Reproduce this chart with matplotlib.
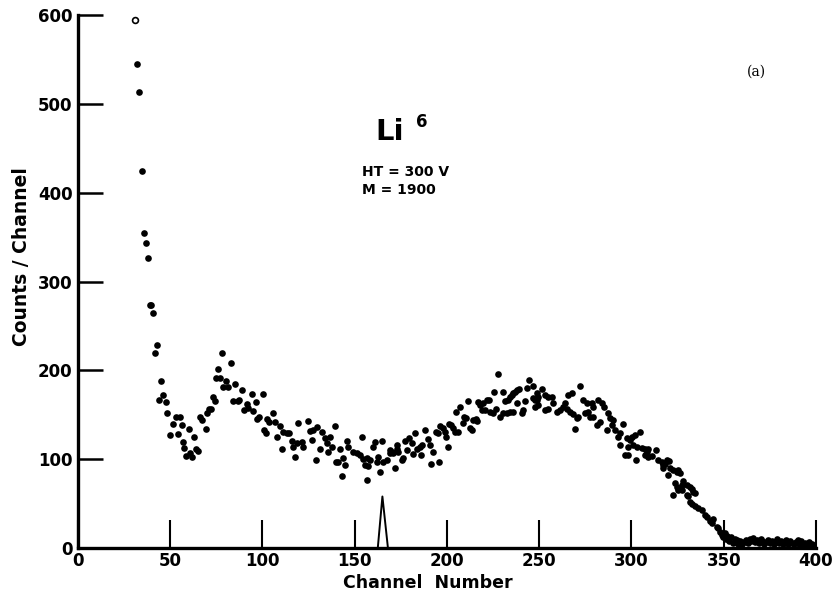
import matplotlib
matplotlib.use("Agg")
import matplotlib.pyplot as plt
import numpy as np

# open circle (first channel, off-scale reading)
open_channel = [31.0]
open_counts = [594]

channel = [
    32.0, 33.0, 34.5, 35.8, 36.7, 37.9, 39.2, 39.8, 40.7, 41.7, 42.6, 44.0, 44.8,
    46.2, 47.5, 48.0, 49.9, 51.7, 53.1, 54.0, 55.3, 56.2, 57.1, 57.6, 58.5, 60.2,
    60.7, 62.0, 63.0, 63.8, 65.2, 66.1, 67.1, 69.2, 69.7, 71.2, 71.9, 73.0, 74.1,
    74.8, 76.1, 77.0, 77.9, 78.8, 80.0, 81.5, 82.9, 84.2, 85.3, 86.6, 87.5, 89.1,
    90.2, 91.4, 92.3, 94.5, 95.0, 96.5, 96.9, 98.3, 100.1, 101.0, 101.7, 102.3,
    103.7, 105.9, 106.8, 107.7, 109.5, 110.4, 111.3, 113.1, 114.5, 115.8, 116.7,
    117.6, 118.5, 119.0, 121.2, 122.1, 124.8, 125.7, 126.7, 127.5, 128.8, 129.4,
    131.2, 132.1, 133.9, 134.8, 135.7, 136.6, 137.5, 139.3, 139.8, 141.1, 142.0,
    142.9, 143.8, 144.7, 145.6, 146.5, 149.2, 151.0, 152.8, 153.7, 154.7, 155.6,
    156.5, 156.5, 157.4, 158.3, 160.0, 161.0, 161.9, 162.8, 163.7, 164.6, 165.5,
    167.3, 169.1, 169.1, 170.0, 170.9, 171.8, 172.7, 172.7, 173.6, 175.4, 176.3,
    177.2, 178.1, 179.5, 180.8, 181.7, 182.7, 183.6, 185.4, 185.7, 186.2, 188.1,
    189.9, 190.8, 191.3, 192.2, 194.0, 194.9, 195.8, 196.2, 197.6, 198.9, 199.5,
    200.4, 201.3, 202.2, 203.4, 204.3, 204.7, 206.1, 207.0, 208.5, 209.2, 210.3,
    211.5, 212.5, 213.4, 214.2, 215.7, 216.4, 217.0, 217.9, 218.8, 219.4, 220.6,
    221.5, 222.9, 223.3, 225.1, 225.5, 226.6, 227.5, 228.7, 230.5, 230.5, 231.4,
    232.3, 233.2, 234.1, 234.1, 235.0, 235.9, 235.9, 236.9, 237.8, 237.8, 239.2,
    240.5, 241.4, 242.3, 243.2, 244.6, 246.4, 246.8, 247.7, 247.7, 248.6, 248.6,
    249.5, 249.5, 251.3, 253.1, 253.1, 254.9, 254.9, 256.7, 257.6, 259.4, 261.2,
    263.0, 264.0, 264.8, 265.7, 266.7, 267.6, 268.5, 269.4, 270.3, 271.2, 272.1,
    273.9, 274.8, 275.7, 276.6, 277.5, 278.4, 279.3, 279.3, 281.1, 282.0, 282.9,
    283.8, 285.1, 286.5, 287.4, 288.3, 289.2, 290.1, 291.1, 292.8, 293.8, 293.8,
    295.6, 296.5, 297.4, 298.3, 298.3, 299.2, 300.1, 301.0, 301.9, 302.4, 302.8,
    304.6, 305.5, 307.3, 307.3, 308.2, 309.1, 309.1, 311.0, 313.3, 314.5, 316.3,
    317.2, 317.2, 318.1, 319.0, 319.9, 320.4, 320.9, 322.7, 322.7, 323.6, 324.5,
    324.5, 325.4, 325.4, 326.3, 327.2, 327.2, 328.1, 329.9, 329.9, 330.8, 331.7,
    331.7, 332.6, 332.6, 333.5, 334.4, 334.4, 336.2, 338.0, 339.8, 340.7, 342.5,
    343.4, 344.3, 346.1, 347.1, 348.0, 348.9, 349.5, 350.5, 351.5, 352.0, 353.0,
    354.0, 355.0, 356.0, 357.0, 358.0, 359.0, 360.0, 361.0, 362.0, 363.0, 364.0,
    365.0, 366.0, 367.0, 368.0, 369.0, 370.0, 371.0, 372.0, 373.0, 374.0, 375.0,
    376.0, 377.0, 378.0, 379.0, 380.0, 381.0, 382.0, 383.0, 384.0, 385.0, 386.0,
    387.0, 388.0, 389.0, 390.0, 391.0, 392.0, 393.0, 394.0, 395.0, 396.0, 397.0,
    398.0, 399.0,
]
counts = [
    545, 513, 424, 355, 343, 326, 274, 274, 265, 220, 228, 167, 188,
    172, 164, 152, 127, 140, 148, 128, 147, 139, 119, 113, 104, 134,
    107, 103, 125, 112, 109, 147, 144, 134, 152, 156, 157, 170, 165,
    191, 202, 191, 220, 181, 188, 181, 208, 165, 185, 165, 167, 178,
    155, 162, 158, 173, 154, 164, 145, 148, 173, 133, 130, 145,
    142, 152, 142, 125, 137, 111, 131, 129, 129, 120, 114,
    103, 118, 141, 119, 114, 143, 132, 122, 133, 99, 136,
    112, 131, 124, 118, 108, 125, 114, 137, 97, 97, 112,
    81, 101, 93, 121, 114, 108, 107, 105, 125, 100, 93,
    101, 77, 92, 99, 114, 119, 97, 103, 86, 120, 97,
    99, 107, 110, 108, 107, 90, 116, 112, 108, 99, 101,
    120, 110, 124, 118, 106, 130, 112, 114, 105, 116, 133,
    123, 116, 95, 108, 131, 129, 97, 137, 135, 131, 125,
    114, 140, 139, 135, 131, 153, 131, 159, 141, 148, 146,
    165, 135, 133, 144, 145, 143, 164, 161, 155, 163, 155,
    167, 167, 153, 152, 176, 156, 196, 148, 152, 176, 165,
    152, 167, 170, 153, 172, 174, 153, 176, 178, 163, 179,
    152, 155, 165, 180, 189, 182, 169, 167, 159, 174, 167,
    170, 161, 179, 172, 155, 170, 156, 170, 163, 153, 155,
    159, 163, 157, 172, 153, 174, 151, 134, 146, 148, 182,
    167, 152, 163, 153, 148, 163, 159, 148, 139, 167, 142,
    163, 159, 133, 152, 146, 139, 144, 133, 125, 129, 116,
    140, 105, 124, 114, 105, 122, 125, 116, 127, 99, 114,
    131, 113, 112, 105, 108, 111, 103, 104, 110, 99, 97,
    93, 90, 95, 99, 82, 98, 90, 88, 60, 73, 86,
    69, 88, 65, 84, 71, 65, 75, 71, 60, 58, 69,
    52, 67, 50, 63, 62, 47, 45, 43, 37, 35, 30,
    28, 33, 24, 22, 18, 15, 12, 17, 10, 14, 8,
    12, 6, 10, 9, 5, 8, 4, 7, 9, 6, 10,
    8, 11, 7, 9, 6, 10, 8, 5, 7, 9, 6,
    8, 5, 7, 10, 6, 8, 4, 7, 9, 5, 8,
    6, 4, 7, 9, 5, 8, 3, 6, 4, 7, 3,
    5, 2,
]

# calibration marker drawn under the data
peak_x = [162.5, 165.0, 168.0]
peak_y = [0, 58, 0]

x_ticks = [0, 50, 100, 150, 200, 250, 300, 350, 400]
y_ticks = [0, 100, 200, 300, 400, 500, 600]
x_labels = ["0", "50", "100", "150", "200", "250", "300", "350", "400"]
y_labels = ["0", "100", "200", "300", "400", "500", "600"]

fig = plt.figure(figsize=(8.35, 5.96), dpi=100)
ax = fig.add_axes([0.0934, 0.0805, 0.8838, 0.8943])

ax.plot(channel, counts, "o", color="black", ms=4.8, mew=0)
ax.plot(open_channel, open_counts, "o", mfc="white", mec="black", ms=4.2, mew=1.2)
ax.plot(peak_x, peak_y, color="black", lw=1.4)

ax.set_xlim(0, 400)
ax.set_ylim(0, 600)
for side in ["top", "right"]:
    ax.spines[side].set_visible(False)
for side in ["left", "bottom"]:
    ax.spines[side].set_linewidth(2.4)

ax.set_xticks(x_ticks)
ax.set_xticklabels(x_labels)
ax.set_yticks(y_ticks)
ax.set_yticklabels(y_labels)
ax.tick_params(axis="x", direction="in", length=20, width=1.5, pad=3,
               labelsize=12)
ax.tick_params(axis="y", direction="in", length=18, width=1.8, pad=4,
               labelsize=12)
for lab in ax.get_xticklabels() + ax.get_yticklabels():
    lab.set_fontweight("bold")

fig.text(0.512, 0.022, "Channel  Number", ha="center", va="center",
         fontsize=12.5, fontweight="bold")
fig.text(0.026, 0.57, "Counts / Channel", ha="center", va="center",
         rotation=90, fontsize=13.5, fontweight="bold")

ax.text(161, 468, "Li", fontsize=21, fontweight="bold", va="center")
ax.text(183, 480, "6", fontsize=12, fontweight="bold", va="center")
ax.text(154, 423, "HT = 300 V", fontsize=10, fontweight="bold", va="center")
ax.text(154, 403, "M = 1900", fontsize=10, fontweight="bold", va="center")
ax.text(368, 536, "(a)", fontsize=10, family="DejaVu Serif", ha="center",
        va="center")

fig.savefig("out.png", dpi=100)
